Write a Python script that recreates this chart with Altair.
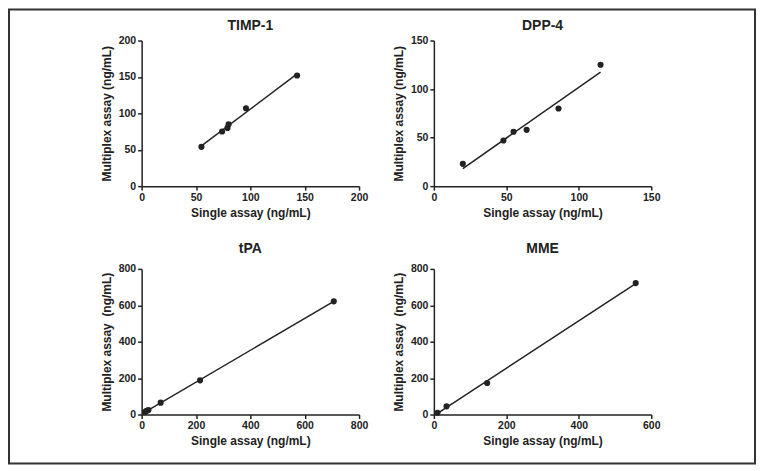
import altair as alt
import pandas as pd

# ---- data ----
timp_x = [55, 74, 79, 80, 96, 143]
timp_y = [54, 75, 80, 85, 107, 152]
dpp_x = [20, 48, 55, 64, 86, 115]
dpp_y = [23, 47, 56, 58, 80, 125]
tpa_x = [12, 18, 25, 70, 215, 707]
tpa_y = [14, 20, 25, 65, 188, 622]
mme_x = [10, 35, 147, 557]
mme_y = [10, 45, 173, 722]

titles = ["TIMP-1", "DPP-4", "tPA", "MME"]
x_ticks = [[0, 50, 100, 150, 200], [0, 50, 100, 150], [0, 200, 400, 600, 800], [0, 200, 400, 600]]
y_ticks = [[0, 50, 100, 150, 200], [0, 50, 100, 150], [0, 200, 400, 600, 800], [0, 200, 400, 600, 800]]
x_title = "Single assay (ng/mL)"
y_titles = ["Multiplex assay (ng/mL)", "Multiplex assay (ng/mL)",
            "Multiplex assay\u00a0 (ng/mL)", "Multiplex assay\u00a0 (ng/mL)"]

FONT = "Liberation Sans"
INK = "#222222"
W, H = 218, 146


def panel(title, xs, ys, xt, yt, ytitle, title_y, frame=False):
    df = pd.DataFrame({"x": xs, "y": ys})
    base = alt.Chart(df)
    xenc = alt.X("x:Q", scale=alt.Scale(domain=[xt[0], xt[-1]], nice=False),
                 axis=alt.Axis(values=xt, tickCount=len(xt), title=x_title))
    yenc = alt.Y("y:Q", scale=alt.Scale(domain=[yt[0], yt[-1]], nice=False),
                 axis=alt.Axis(values=yt, tickCount=len(yt), title=ytitle))
    line = base.transform_regression("x", "y").mark_line(
        color=INK, strokeWidth=1.5).encode(x=xenc, y=yenc)
    pts = base.mark_circle(size=38, color=INK, opacity=1).encode(x="x:Q", y="y:Q")
    one = alt.Chart(pd.DataFrame({"f": [0]}))
    ttl = one.mark_text(font=FONT, fontSize=14, fontWeight="bold", color=INK,
                        align="center", baseline="middle").encode(
        x=alt.value(W / 2), y=alt.value(title_y), text=alt.value(title))
    layers = [line, pts, ttl]
    if frame:
        fr = one.mark_rect(filled=False, stroke="#333333", strokeWidth=2).encode(
            x=alt.value(-133), x2=alt.value(615),
            y=alt.value(-31), y2=alt.value(424))
        layers.append(fr)
    return alt.layer(*layers).properties(width=W, height=H)


panels = [
    panel(titles[0], timp_x, timp_y, x_ticks[0], y_ticks[0], y_titles[0], -15, frame=True),
    panel(titles[1], dpp_x, dpp_y, x_ticks[1], y_ticks[1], y_titles[1], -15),
    panel(titles[2], tpa_x, tpa_y, x_ticks[2], y_ticks[2], y_titles[2], -20),
    panel(titles[3], mme_x, mme_y, x_ticks[3], y_ticks[3], y_titles[3], -20),
]

chart = alt.concat(
    *panels, columns=2,
    spacing=alt.RowColnumber(row=83, column=75),
    bounds="flush",
).properties(padding=0, background="white").configure_view(
    stroke=None
).configure_axis(
    grid=False, domainColor=INK, domainWidth=1.5, tickColor=INK, tickWidth=1.5,
    tickSize=4, labelFont=FONT, labelFontSize=10.5, labelFontWeight="bold",
    labelColor=INK, titleFont=FONT, titleFontSize=12, titleFontWeight="bold",
    titleColor=INK, labelFlush=False, labelPadding=2, titlePadding=5,
    labelOverlap=False,
)

chart.save("out.html", embed_options={"renderer": "svg", "actions": False})
